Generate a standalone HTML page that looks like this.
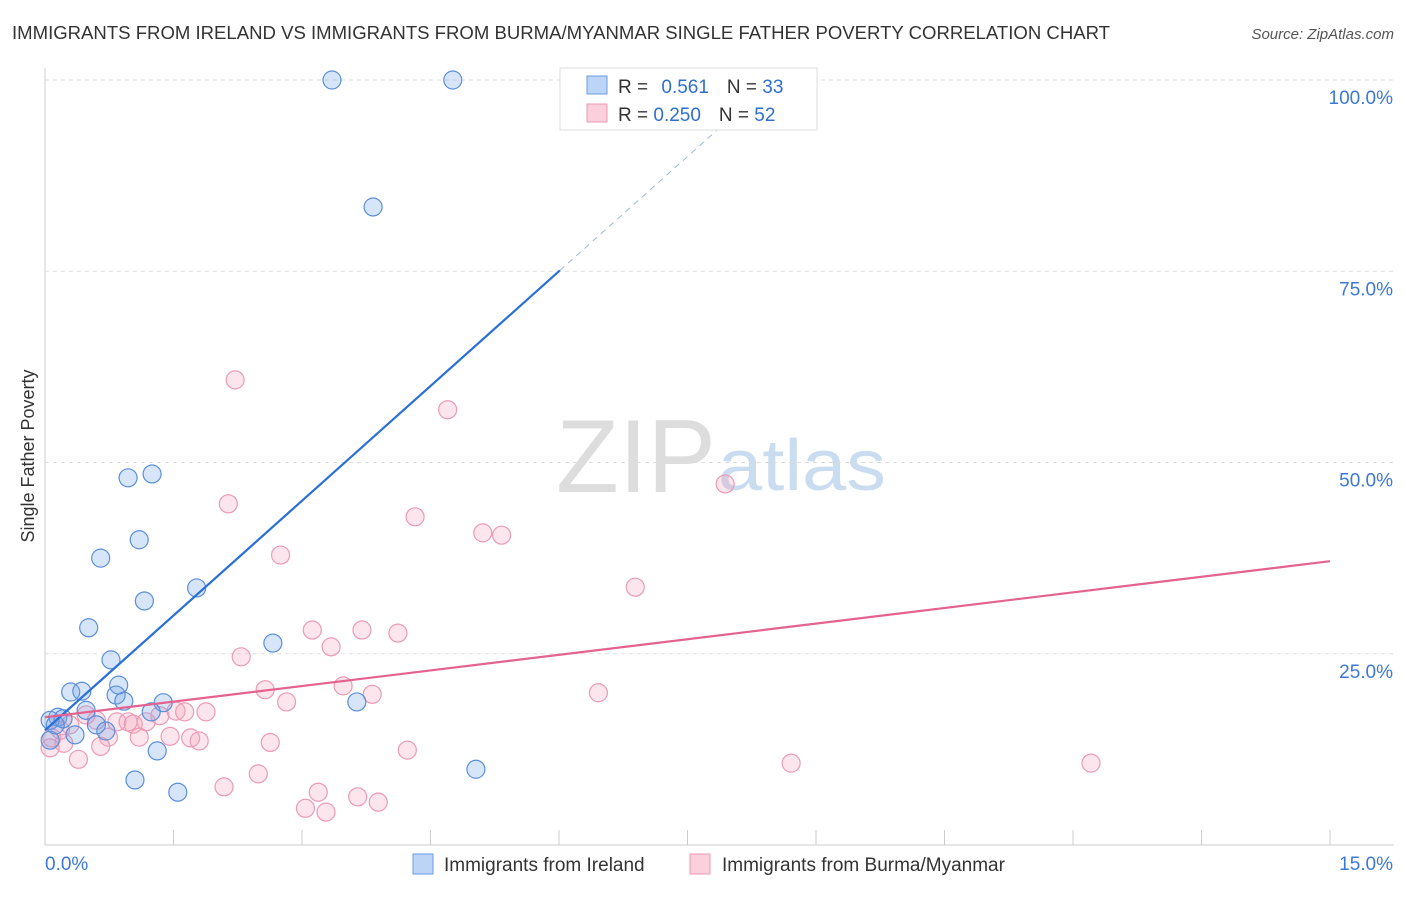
<!DOCTYPE html>
<html><head><meta charset="utf-8"><style>
body{margin:0;background:#fff;font-family:"Liberation Sans",sans-serif}
svg text{font-family:"Liberation Sans",sans-serif}
</style></head><body>
<svg id="c" width="1406" height="892">
<text x="12" y="39" font-size="18" fill="#333" textLength="1098" lengthAdjust="spacingAndGlyphs">IMMIGRANTS FROM IRELAND VS IMMIGRANTS FROM BURMA/MYANMAR SINGLE FATHER POVERTY CORRELATION CHART</text>
<text x="1394" y="39" font-size="15" fill="#555" font-style="italic" text-anchor="end">Source: ZipAtlas.com</text>
<text x="716" y="492" font-size="104" fill="#ddd" text-anchor="end" font-family="Liberation Serif" textLength="160" lengthAdjust="spacingAndGlyphs">ZIP</text>
<text x="718" y="490" font-size="72" fill="#c9dcf0" textLength="168" lengthAdjust="spacingAndGlyphs">atlas</text>
<text transform="translate(34,456) rotate(-90)" font-size="18" fill="#333" text-anchor="middle">Single Father Poverty</text>
<g id="grid"></g><g id="pts"></g><g id="lines"></g>
<g>
<rect x="560" y="68" width="257" height="62" fill="#fff" stroke="#ddd"/>
<rect x="587" y="76" width="20" height="18" fill="#bcd4f5" stroke="#6a9be0"/>
<rect x="587" y="104" width="20" height="18" fill="#fbcfdc" stroke="#eb9ab5"/>
<text x="618" y="93" font-size="19" fill="#333">R = <tspan fill="#2f6fd0" dx="8">0.561</tspan><tspan dx="18" fill="#333">N = </tspan><tspan fill="#2f6fd0">33</tspan></text>
<text x="618" y="121" font-size="19" fill="#333">R = <tspan fill="#2f6fd0">0.250</tspan><tspan dx="18" fill="#333">N = </tspan><tspan fill="#2f6fd0">52</tspan></text>
</g>
<g>
<rect x="413" y="854" width="20" height="20" fill="#bcd4f5" stroke="#6a9be0"/>
<text x="444" y="871" font-size="19" fill="#333">Immigrants from Ireland</text>
<rect x="690" y="854" width="20" height="20" fill="#fbcfdc" stroke="#eb9ab5"/>
<text x="722" y="871" font-size="19" fill="#333">Immigrants from Burma/Myanmar</text>
</g>
</svg>
<script>
const xTicks=[0,15];
const yTicks=[25,50,75,100];
const irelandX=[3.35,4.76,3.83,1.25,0.97,1.10,0.65,1.16,1.77,0.51,2.66,0.77,0.30,0.43,0.86,0.83,0.92,1.38,3.64,1.24,0.48,0.15,0.21,0.06,0.60,0.71,0.35,1.31,1.05,1.55,5.03,0.06,0.12];
const irelandY=[100,100,83.4,48.5,48.0,39.9,37.5,31.9,33.6,28.4,26.4,24.2,20.0,20.1,20.9,19.6,18.8,18.6,18.7,17.4,17.6,16.7,16.5,16.3,15.7,14.9,14.4,12.3,8.5,6.9,9.9,13.7,15.7];
const burmaX=[2.22,4.70,7.94,2.14,4.32,5.11,5.33,2.75,6.89,3.12,3.70,4.12,3.34,2.29,3.48,2.57,3.82,6.46,2.82,1.53,1.63,1.88,1.34,0.48,0.60,0.84,0.97,1.03,1.18,0.29,0.74,1.10,1.46,1.70,1.80,2.63,0.65,0.22,0.08,4.23,0.39,2.49,2.09,3.19,3.65,3.89,3.04,3.28,8.71,12.21,0.06,0.18];
const burmaY=[60.8,56.9,47.2,44.6,42.9,40.8,40.5,37.9,33.7,28.1,28.1,27.7,25.9,24.6,20.8,20.3,19.7,19.9,18.7,17.5,17.4,17.4,16.9,17.0,16.3,16.1,16.1,15.8,16.1,15.7,14.1,14.1,14.2,14.0,13.6,13.4,12.9,13.3,14.0,12.4,11.2,9.3,7.6,6.9,6.3,5.6,4.8,4.3,10.7,10.7,12.7,15.0];
const irelandTrend=[15.0,25.0];   // y at x=0, y at x=1
const burmaTrend=[16.7,37.1];     // y at x=0, y at x=15
const X=v=>45+v/15*1285, Y=v=>845-v*7.65;
const NS='http://www.w3.org/2000/svg';
function mk(p,t,a){const e=document.createElementNS(NS,t);for(const k in a)e.setAttribute(k,a[k]);p.appendChild(e);return e;}
const g=document.getElementById('grid');
mk(g,'line',{x1:45,y1:68,x2:45,y2:845,stroke:'#ccc'});
mk(g,'line',{x1:45,y1:845,x2:1394,y2:845,stroke:'#ccc'});
for(let i=0;i<=10;i++){const x=X(i*1.5);const t=mk(g,'line',{x1:x,y1:830,x2:x,y2:845,stroke:'#ccc'});

}
yTicks.forEach(v=>{const l=mk(g,'line',{x1:45,y1:Y(v),x2:1394,y2:Y(v),stroke:'#ddd','stroke-dasharray':'4,4'});


const t=mk(g,'text',{x:1393,y:Y(v)+24,'font-size':19,fill:'#3d78d8','text-anchor':'end'});t.textContent=v.toFixed(1)+'%';

});
xTicks.forEach((v,i)=>{const t=mk(g,'text',{x:i?1393:45,y:870,'font-size':19,fill:'#3d78d8','text-anchor':i?'end':'start'});t.textContent=v.toFixed(1)+'%';

});
const p=document.getElementById('pts');
burmaX.forEach((x,i)=>{const c=mk(p,'circle',{cx:X(x),cy:Y(burmaY[i]),r:9,fill:'rgba(244,160,188,0.28)',stroke:'#ec9ab5','stroke-width':1.2});

});
irelandX.forEach((x,i)=>{const c=mk(p,'circle',{cx:X(x),cy:Y(irelandY[i]),r:9,fill:'rgba(110,160,235,0.28)',stroke:'#5b8fd9','stroke-width':1.2});

});
const L=document.getElementById('lines');
const sl=(irelandTrend[1]-irelandTrend[0]);
const iy=x=>irelandTrend[0]+sl*x;
let a=mk(L,'line',{x1:X(0),y1:Y(iy(0)),x2:X(6.01),y2:Y(iy(6.01)),stroke:'#2a6fd6','stroke-width':2.2});


a=mk(L,'line',{x1:X(6.01),y1:Y(iy(6.01)),x2:X(8.35),y2:Y(iy(8.35)),stroke:'#9bb8e0','stroke-width':1,'stroke-dasharray':'6,5'});


a=mk(L,'line',{x1:X(0),y1:Y(burmaTrend[0]),x2:X(15),y2:Y(burmaTrend[1]),stroke:'#e4628f','stroke-width':2.2});


</script>
</body></html>
